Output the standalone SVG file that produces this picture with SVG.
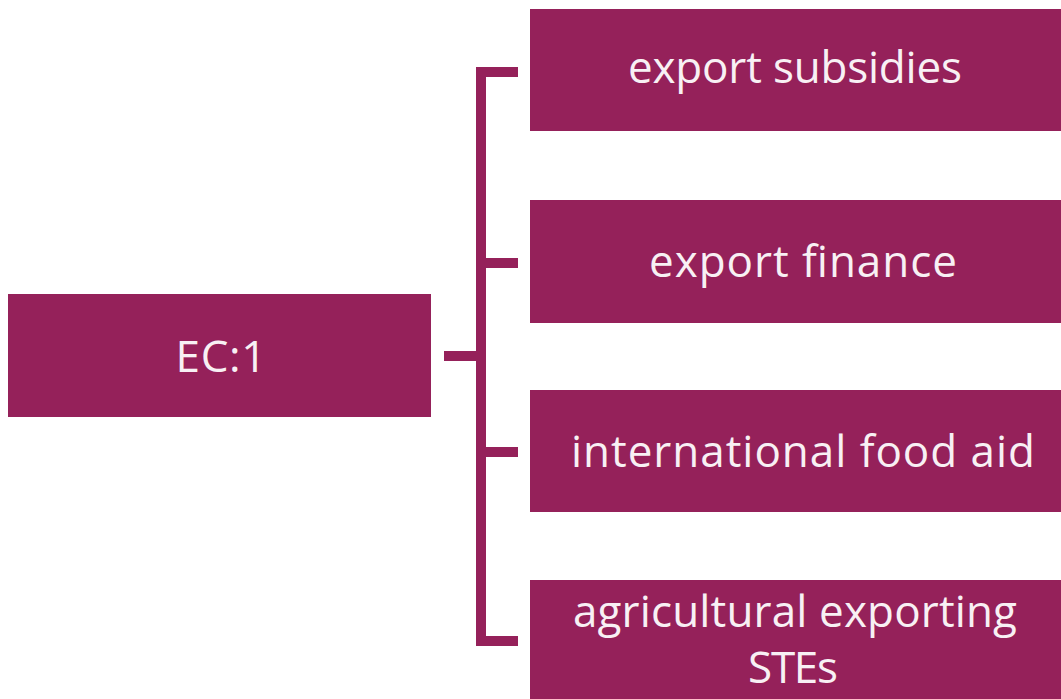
<svg xmlns="http://www.w3.org/2000/svg" width="1061" height="699" viewBox="0 0 1061 699">
<style>
.box{fill:#95215A;}
.lbl{font-family:"Open Sans","Noto Sans",sans-serif;font-size:44px;fill:#F8F0F4;text-anchor:middle;}
.con{fill:none;stroke:#95215A;stroke-width:10;}
</style>
<rect width="1061" height="699" fill="#FFFFFF"/>
<g id="connectors">
<path class="con" d="M518,72 H481 V641 H518"/>
<path class="con" d="M481,263 H518"/>
<path class="con" d="M481,452 H518"/>
<path class="con" d="M444,356 H481"/>
</g>
<g id="ec1">
<rect class="box" x="8" y="294" width="423" height="123"/>
<text class="lbl" x="221" y="372" textLength="91">EC:1</text>
</g>
<g id="export-subsidies">
<rect class="box" x="530" y="9" width="531" height="122"/>
<text class="lbl" x="795" y="83" textLength="334">export subsidies</text>
</g>
<g id="export-finance">
<rect class="box" x="530" y="200" width="531" height="123"/>
<text class="lbl" x="803" y="277" textLength="308">export finance</text>
</g>
<g id="international-food-aid">
<rect class="box" x="530" y="390" width="531" height="122"/>
<text class="lbl" x="803" y="467" textLength="464">international food aid</text>
</g>
<g id="agricultural-exporting-stes">
<rect class="box" x="530" y="580" width="531" height="119"/>
<text class="lbl" x="795" y="627" textLength="444">agricultural exporting</text>
<text class="lbl" x="793" y="683" textLength="90">STEs</text>
</g>
</svg>
